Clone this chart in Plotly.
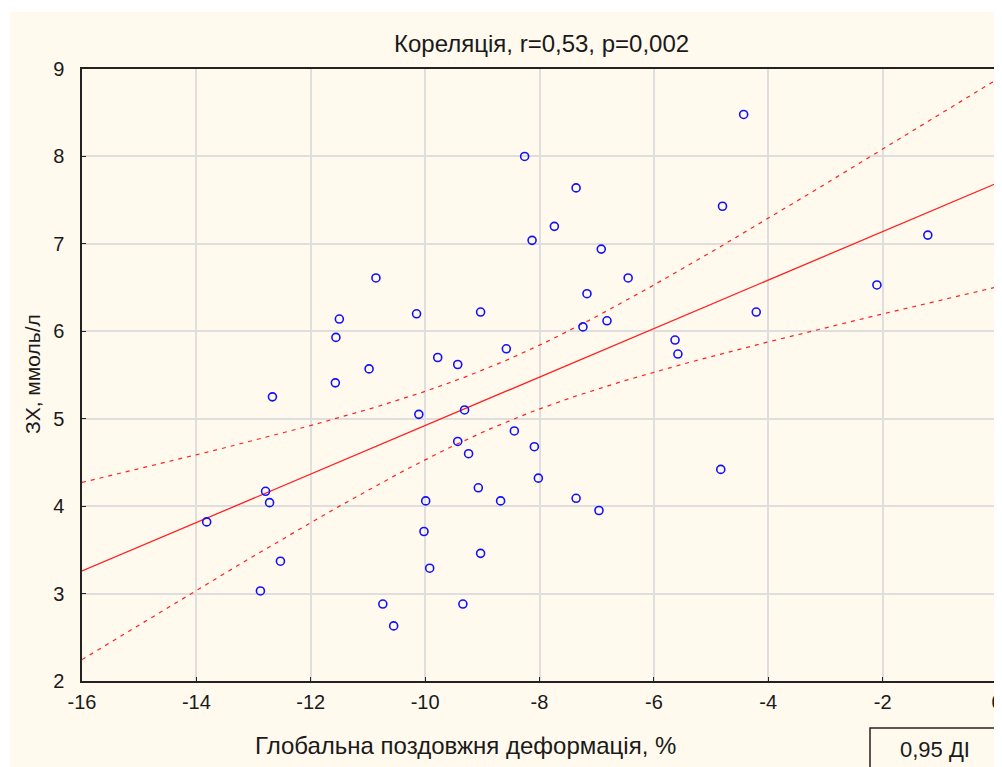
import numpy as np
import plotly.graph_objects as go

# Data
gps = [-13.82, -12.79, -12.72, -12.88, -12.53, -12.67, -11.57, -11.56, -11.50, -10.98,
       -10.86, -10.74, -10.55, -10.15, -10.11, -9.99, -10.02, -9.92, -9.78, -9.43,
       -9.43, -9.31, -9.24, -9.34, -9.03, -9.07, -9.03, -8.68, -8.58, -8.44,
       -8.26, -8.13, -8.09, -8.02, -7.74, -7.36, -7.36, -7.17, -7.24, -6.92,
       -6.96, -6.82, -6.45, -5.63, -5.58, -4.80, -4.83, -4.43, -4.21, -2.10, -1.21]
chol = [3.82, 4.17, 4.04, 3.03, 3.37, 5.25, 5.41, 5.93, 6.14, 5.57,
        6.61, 2.88, 2.63, 6.20, 5.05, 4.06, 3.71, 3.29, 5.70, 5.62,
        4.74, 5.10, 4.60, 2.88, 6.22, 4.21, 3.46, 4.06, 5.80, 4.86,
        8.00, 7.04, 4.68, 4.32, 7.20, 7.64, 4.09, 6.43, 6.05, 6.94,
        3.95, 6.12, 6.61, 5.90, 5.74, 7.43, 4.42, 8.48, 6.22, 6.53, 7.10]

x_ticks = [-16, -14, -12, -10, -8, -6, -4, -2, 0]
y_ticks = [2, 3, 4, 5, 6, 7, 8, 9]

title_text = "Кореляція, r=0,53, p=0,002"
x_title = "Глобальна поздовжня деформація, %"
y_title = "ЗХ, ммоль/л"
legend_text = "0,95 ДІ"

# Regression and 95% confidence band
x = np.array(gps)
y = np.array(chol)
n = len(x)
b, a = np.polyfit(x, y, 1)
resid = y - (a + b * x)
s = np.sqrt(np.sum(resid ** 2) / (n - 2))
xm = x.mean()
sxx = np.sum((x - xm) ** 2)
t = 2.0096
xl = np.linspace(-16, 0, 200)
yl = a + b * xl
se = s * np.sqrt(1.0 / n + (xl - xm) ** 2 / sxx)
upper = yl + t * se
lower = yl - t * se

font_family = "Liberation Sans, Arial, sans-serif"
red = "#ff2020"
txt = "#1a1a1a"

fig = go.Figure()
fig.add_trace(go.Scatter(x=xl, y=upper, mode="lines",
                         line=dict(color=red, width=1.2, dash="4px,5px"), hoverinfo="skip"))
fig.add_trace(go.Scatter(x=xl, y=lower, mode="lines",
                         line=dict(color=red, width=1.2, dash="4px,5px"), hoverinfo="skip"))
fig.add_trace(go.Scatter(x=xl, y=yl, mode="lines",
                         line=dict(color=red, width=1.3), hoverinfo="skip"))
fig.add_trace(go.Scatter(x=gps, y=chol, mode="markers",
                         marker=dict(symbol="circle-open", size=8, color="#1010ff",
                                     line=dict(width=1.6, color="#1010ff"))))

W, H = 1002, 767
# the page body adds an 8px offset; layout is expressed in screen pixels
OFF = 8
SL, SR, ST, SB = 82, 997, 69, 681  # plot area edges on screen
L, T = SL - OFF, ST - OFF
R = W - (SR - OFF)
B = H - (SB - OFF)
pw, ph = W - L - R, H - T - B

def px_to_paper_x(px):
    return (px - OFF - L) / pw

def px_to_paper_y(py):
    return (H - B - (py - OFF)) / ph

cream = "#fff9ee"
fig.update_layout(
    width=W, height=H,
    margin=dict(l=L, r=R, t=T, b=B, autoexpand=False),
    paper_bgcolor="white",
    plot_bgcolor="white",
    showlegend=False,
    font=dict(family=font_family, size=20, color=txt),
    shapes=[
        dict(type="rect", xref="paper", yref="paper",
             x0=px_to_paper_x(10), x1=px_to_paper_x(W + 20),
             y0=px_to_paper_y(H + 20), y1=px_to_paper_y(12),
             fillcolor=cream, line=dict(width=0), layer="below"),
        dict(type="rect", xref="paper", yref="paper",
             x0=px_to_paper_x(870), x1=px_to_paper_x(1001),
             y0=px_to_paper_y(H + 10), y1=px_to_paper_y(728),
             fillcolor=cream, line=dict(width=1.5, color="#222222"), layer="above"),
    ],
    annotations=[
        dict(text=title_text, xref="paper", yref="paper",
             x=px_to_paper_x(541), y=px_to_paper_y(44),
             xanchor="center", yanchor="middle", showarrow=False,
             font=dict(family=font_family, size=24, color=txt)),
        dict(text=x_title, xref="paper", yref="paper",
             x=px_to_paper_x(465), y=px_to_paper_y(745),
             xanchor="center", yanchor="middle", showarrow=False,
             font=dict(family=font_family, size=24, color=txt)),
        dict(text=y_title, xref="paper", yref="paper", textangle=-90,
             x=px_to_paper_x(32), y=px_to_paper_y(374),
             xanchor="center", yanchor="middle", showarrow=False,
             font=dict(family=font_family, size=21, color=txt)),
        dict(text=legend_text, xref="paper", yref="paper",
             x=px_to_paper_x(935), y=px_to_paper_y(749),
             xanchor="center", yanchor="middle", showarrow=False,
             font=dict(family=font_family, size=22, color=txt)),
    ],
)
fig.update_xaxes(range=[-16, 0], tickvals=x_ticks, ticktext=[str(v) for v in x_ticks],
                 showgrid=True, gridcolor="#dedede", gridwidth=1.5,
                 showline=True, linecolor="#222222", linewidth=1.5, mirror=True,
                 ticks="inside", ticklen=4, tickcolor="#222222",
                 zeroline=False, tickfont=dict(size=20), ticklabelstandoff=2,
                 automargin=False)
fig.update_yaxes(range=[2, 9], tickvals=y_ticks, ticktext=[str(v) for v in y_ticks],
                 showgrid=True, gridcolor="#dedede", gridwidth=1.5,
                 showline=True, linecolor="#222222", linewidth=1.5, mirror=True,
                 ticks="inside", ticklen=4, tickcolor="#222222",
                 zeroline=False, tickfont=dict(size=20), ticklabelstandoff=12,
                 automargin=False)

fig.write_html("out.html")
